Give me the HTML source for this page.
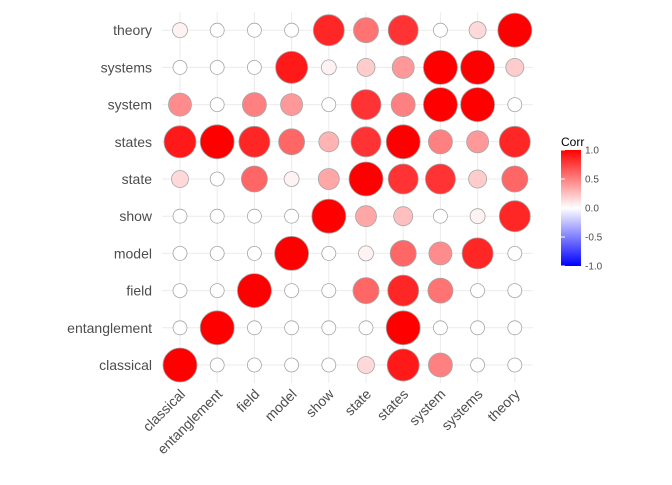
<!DOCTYPE html>
<html><head><meta charset="utf-8"><style>
html,body{margin:0;padding:0;background:#fff;}
svg{font-family:"Liberation Sans",sans-serif;}
</style></head><body>
<svg id="chart" width="672" height="480">
<defs><linearGradient id="lg" x1="0" y1="1" x2="0" y2="0">
<stop offset="0" stop-color="#0000ff"/><stop offset="0.5" stop-color="#ffffff"/><stop offset="1" stop-color="#ff0000"/></linearGradient></defs>
<g id="grid"></g>
<g id="marks"></g>
<g id="axes"></g>
<g>
<text x="561" y="146" font-size="12" fill="#000">Corr</text>
<rect x="561" y="150" width="20" height="116" fill="url(#lg)"/>
<g id="legticks"></g>
</g>
</svg>
<script>
const vars = ["classical","entanglement","field","model","show","state","states","system","systems","theory"];
// rows listed bottom (classical) to top (theory); columns in vars order
const rowClassical    = [1,0,0,0,0,0.15,0.9,0.5,0,0];
const rowEntanglement = [0,1,0,0,0,0,1,0,0,0];
const rowField        = [0,0,1,0,0,0.6,0.85,0.55,0,0];
const rowModel        = [0,0,0,1,0,0.05,0.6,0.45,0.85,0];
const rowShow         = [0,0,0,0,1,0.35,0.25,0,0.05,0.85];
const rowState        = [0.15,0,0.6,0.05,0.35,1,0.8,0.8,0.2,0.6];
const rowStates       = [0.9,1,0.85,0.6,0.3,0.8,1,0.5,0.4,0.85];
const rowSystem       = [0.45,0,0.5,0.4,0,0.8,0.5,1,1,0];
const rowSystems      = [0,0,0,0.9,0.05,0.2,0.4,1,1,0.2];
const rowTheory       = [0.05,0,0,0,0.85,0.55,0.8,0,0.15,1];
const rows = [rowClassical,rowEntanglement,rowField,rowModel,rowShow,rowState,rowStates,rowSystem,rowSystems,rowTheory];
const legendTicks = [1.0,0.5,0.0,-0.5,-1.0];

const NS="http://www.w3.org/2000/svg";
const x0=180, dx=37.2, yb=365, dy=37.2;
const xs=i=>x0+i*dx, ys=j=>yb-j*dy;
const rad=v=>7+10*Math.abs(v);
function col(v){
  const t=Math.min(1,Math.abs(v));
  const c=Math.round(255*(1-t));
  return v>=0?`rgb(255,${c},${c})`:`rgb(${c},${c},255)`;
}
function mk(tag,attrs,parent){const e=document.createElementNS(NS,tag);for(const k in attrs)e.setAttribute(k,attrs[k]);parent.appendChild(e);return e;}
const grid=document.getElementById('grid'),marks=document.getElementById('marks'),axes=document.getElementById('axes');
vars.forEach((v,i)=>{
  const gl=mk('line',{x1:xs(i),x2:xs(i),y1:ys(9)-18,y2:ys(0)+18,stroke:'#ebebeb','stroke-width':1},grid);
  
  
  const gh=mk('line',{x1:xs(0)-18,x2:xs(9)+18,y1:ys(i),y2:ys(i),stroke:'#ebebeb','stroke-width':1},grid);
  
  
  const ty=mk('text',{x:152,y:ys(i)+5,'text-anchor':'end','font-size':14,fill:'#4d4d4d'},axes);
  ty.textContent=v;
  
  
  const tx=mk('text',{x:0,y:0,'text-anchor':'end','font-size':14,fill:'#4d4d4d',transform:`translate(${xs(i)+6},${ys(0)+30}) rotate(-45)`},axes);
  tx.textContent=v;
  
  
});
rows.forEach((r,j)=>r.forEach((v,i)=>{
  const c=mk('circle',{cx:xs(i),cy:ys(j),r:rad(v),fill:col(v),stroke:'#a6a6a6','stroke-width':0.8},marks);
  
  
}));
const lt=document.getElementById('legticks');
legendTicks.forEach(v=>{
  const y=150+(1-v)/2*116;
  const t=mk('text',{x:585,y:y+3.5,'font-size':10,fill:'#4d4d4d'},lt);
  t.textContent=v.toFixed(1);
  
  
  const l=mk('line',{x1:561,x2:565,y1:y,y2:y,stroke:'#fff'},lt);
  
  
});
</script>
</body></html>
